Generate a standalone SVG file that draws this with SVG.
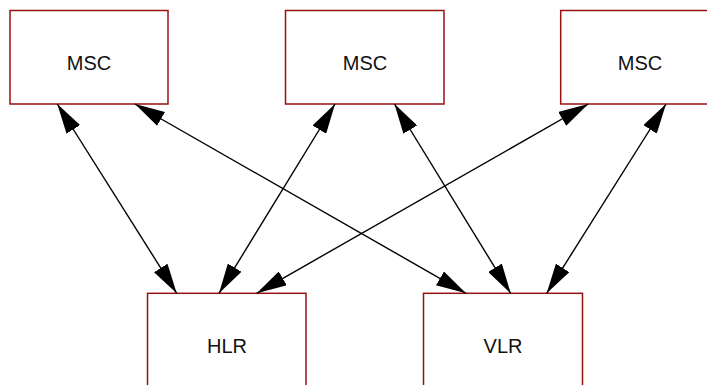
<svg xmlns="http://www.w3.org/2000/svg" width="707" height="385" viewBox="0 0 707 385">
<style>
.box{fill:#ffffff;stroke:#991111;stroke-width:1.5}
.lbl{font-family:"Liberation Sans",Arial,sans-serif;font-size:20px;fill:#111111;text-anchor:middle}
.edge{stroke:#000000;stroke-width:1.4;fill:none;marker-start:url(#ah);marker-end:url(#ah)}
</style>
<defs>
<marker id="ah" viewBox="0 0 30 16" refX="30" refY="8" markerWidth="30" markerHeight="16" markerUnits="userSpaceOnUse" orient="auto-start-reverse">
<path d="M0,0 L30,8 L0,16 z" fill="#000000"/>
</marker>
</defs>
<rect width="707" height="385" fill="#ffffff"/>
<g id="msc1"><rect class="box" x="10" y="10.5" width="158" height="93.5"/><text class="lbl" x="89" y="70">MSC</text></g>
<g id="msc2"><rect class="box" x="285.5" y="10.5" width="158.5" height="93.5"/><text class="lbl" x="365" y="70">MSC</text></g>
<g id="msc3"><rect class="box" x="560.7" y="10.5" width="158.5" height="93.5"/><text class="lbl" x="640" y="70">MSC</text></g>
<g id="hlr"><rect class="box" x="147.5" y="293.3" width="158.5" height="93.5"/><text class="lbl" x="227" y="353.3">HLR</text></g>
<g id="vlr"><rect class="box" x="423.5" y="293.3" width="159" height="93.5"/><text class="lbl" x="503" y="353.3">VLR</text></g>
<g id="connectors">
<line class="edge" x1="57.3" y1="104" x2="176.7" y2="293.3"/>
<line class="edge" x1="135" y1="104" x2="466" y2="293.3"/>
<line class="edge" x1="335" y1="104" x2="219" y2="293.3"/>
<line class="edge" x1="394.5" y1="104" x2="510.7" y2="293.3"/>
<line class="edge" x1="588.3" y1="104" x2="256.7" y2="293.3"/>
<line class="edge" x1="666" y1="104" x2="546.7" y2="293.3"/>
</g>
</svg>
